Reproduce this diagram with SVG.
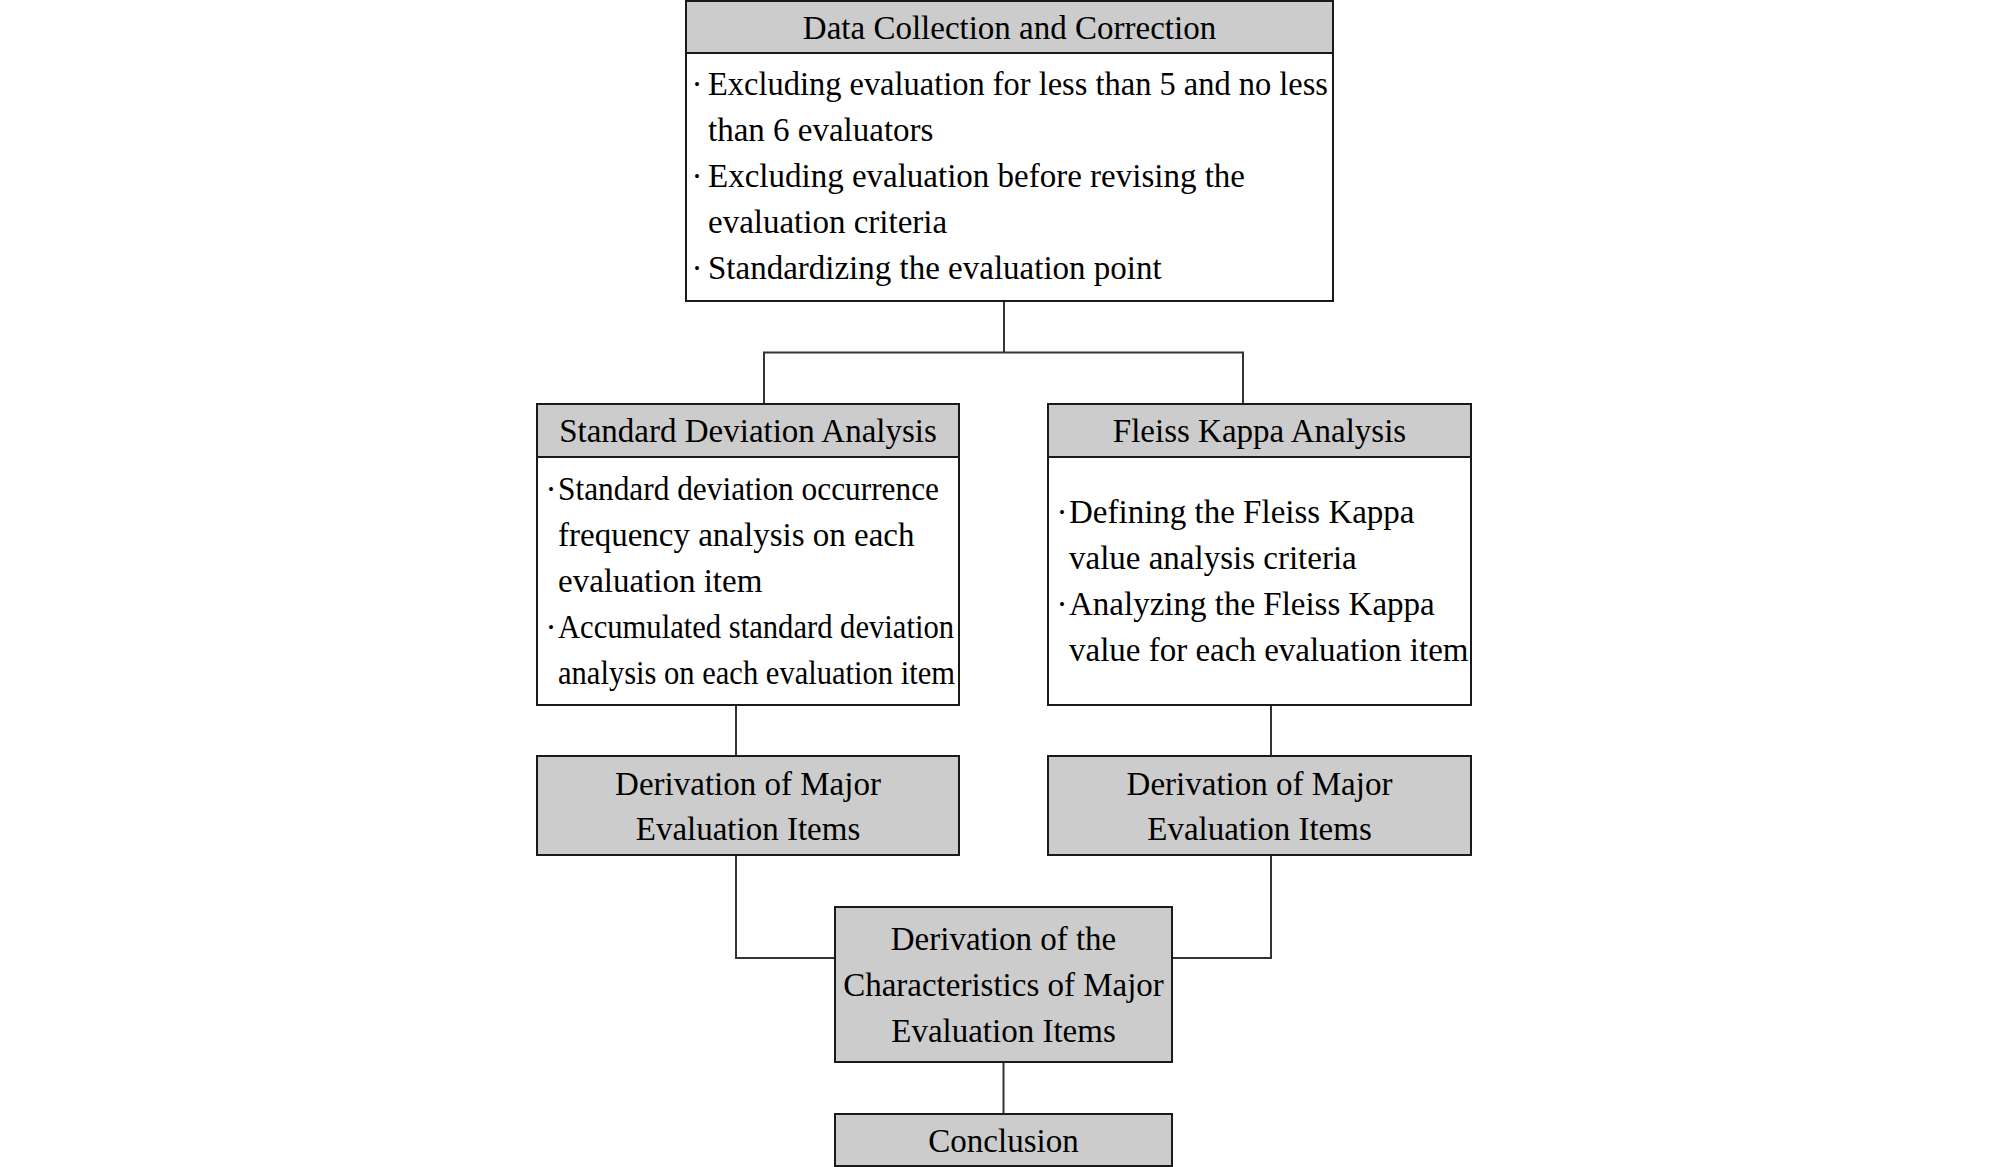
<svg xmlns="http://www.w3.org/2000/svg" width="2008" height="1167" viewBox="0 0 2008 1167">
<style>
  .box { fill: #ffffff; stroke: #1a1a1a; stroke-width: 2; }
  .hdr { fill: #cccccc; stroke: #1a1a1a; stroke-width: 2; }
  .conn { fill: none; stroke: #333333; stroke-width: 2; }
  text { font-family: "Liberation Serif", "Times New Roman", serif; font-size: 33px; fill: #000000; }
  .c { text-anchor: middle; }
  .dot { text-anchor: middle; }
</style>
<rect x="0" y="0" width="2008" height="1167" fill="#ffffff"/>

<g id="connectors">
  <path class="conn" d="M1004 301 V352.5"/>
  <path class="conn" d="M764 405 V352.5 H1243 V405"/>
  <path class="conn" d="M736 705 V756"/>
  <path class="conn" d="M1271 705 V756"/>
  <path class="conn" d="M736 855 V958 H835"/>
  <path class="conn" d="M1271 855 V958 H1172"/>
  <path class="conn" d="M1003.5 1062 V1114"/>
</g>

<g id="data-collection">
  <rect class="box" x="686" y="1" width="647" height="300"/>
  <rect class="hdr" x="686" y="1" width="647" height="52"/>
  <text class="c" x="1009.5" y="39">Data Collection and Correction</text>
  <text class="dot" x="697" y="95">·</text>
  <text x="708" y="95" textLength="620" lengthAdjust="spacingAndGlyphs">Excluding evaluation for less than 5 and no less</text>
  <text x="708" y="141">than 6 evaluators</text>
  <text class="dot" x="697" y="187">·</text>
  <text x="708" y="187">Excluding evaluation before revising the</text>
  <text x="708" y="233">evaluation criteria</text>
  <text class="dot" x="697" y="279">·</text>
  <text x="708" y="279">Standardizing the evaluation point</text>
</g>

<g id="sd-analysis">
  <rect class="box" x="537" y="404" width="422" height="301"/>
  <rect class="hdr" x="537" y="404" width="422" height="53"/>
  <text class="c" x="748" y="442">Standard Deviation Analysis</text>
  <text class="dot" x="551" y="500">·</text>
  <text x="558" y="500" textLength="381" lengthAdjust="spacingAndGlyphs">Standard deviation occurrence</text>
  <text x="558" y="546">frequency analysis on each</text>
  <text x="558" y="592">evaluation item</text>
  <text class="dot" x="551" y="638">·</text>
  <text x="558" y="638" textLength="396" lengthAdjust="spacingAndGlyphs">Accumulated standard deviation</text>
  <text x="558" y="684" textLength="397" lengthAdjust="spacingAndGlyphs">analysis on each evaluation item</text>
</g>

<g id="fk-analysis">
  <rect class="box" x="1048" y="404" width="423" height="301"/>
  <rect class="hdr" x="1048" y="404" width="423" height="53"/>
  <text class="c" x="1259.5" y="442">Fleiss Kappa Analysis</text>
  <text class="dot" x="1062" y="523">·</text>
  <text x="1069" y="523">Defining the Fleiss Kappa</text>
  <text x="1069" y="569">value analysis criteria</text>
  <text class="dot" x="1062" y="615">·</text>
  <text x="1069" y="615">Analyzing the Fleiss Kappa</text>
  <text x="1069" y="661">value for each evaluation item</text>
</g>

<g id="derivation-left">
  <rect class="hdr" x="537" y="756" width="422" height="99"/>
  <text class="c" x="748" y="795">Derivation of Major</text>
  <text class="c" x="748" y="840">Evaluation Items</text>
</g>

<g id="derivation-right">
  <rect class="hdr" x="1048" y="756" width="423" height="99"/>
  <text class="c" x="1259.5" y="795">Derivation of Major</text>
  <text class="c" x="1259.5" y="840">Evaluation Items</text>
</g>

<g id="characteristics">
  <rect class="hdr" x="835" y="907" width="337" height="155"/>
  <text class="c" x="1003.5" y="950">Derivation of the</text>
  <text class="c" x="1003.5" y="996">Characteristics of Major</text>
  <text class="c" x="1003.5" y="1042">Evaluation Items</text>
</g>

<g id="conclusion">
  <rect class="hdr" x="835" y="1114" width="337" height="52"/>
  <text class="c" x="1003.5" y="1152">Conclusion</text>
</g>
</svg>
